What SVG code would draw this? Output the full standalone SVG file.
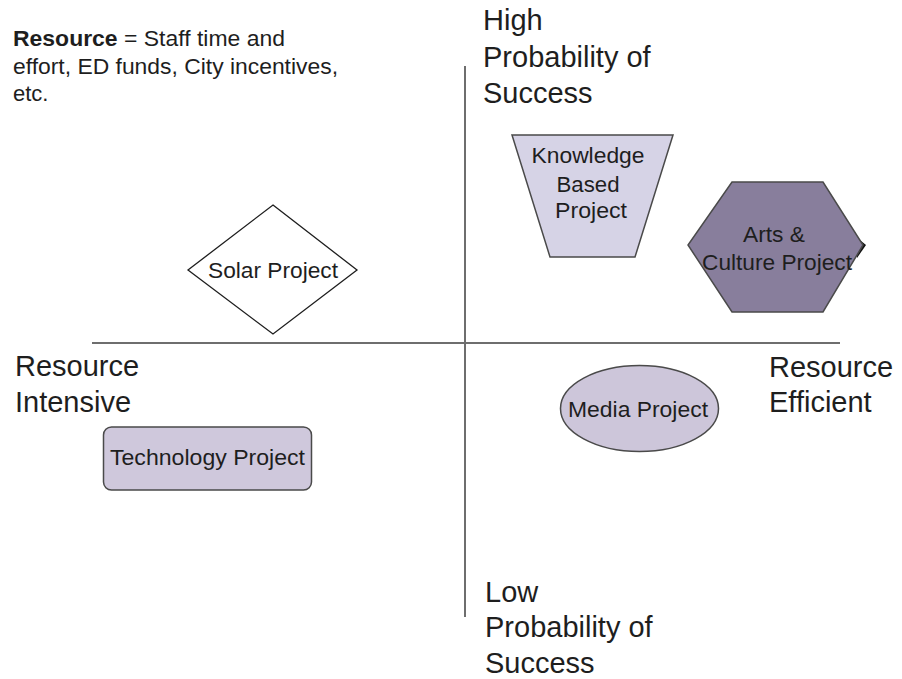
<svg xmlns="http://www.w3.org/2000/svg" width="902" height="679" viewBox="0 0 902 679">
  <style>
    .lbl { font-family: "Liberation Sans", Arial, sans-serif; fill: #1e1e1e; }
    .big { font-size: 29px; }
    .note { font-size: 22px; }
    .node-text { font-family: "Liberation Sans", Arial, sans-serif; font-size: 22px; fill: #1e1e1e; text-anchor: middle; }
    .axis { stroke: #6e6e6e; stroke-width: 2; fill: none; }
    .shape { stroke: #4a4a4a; stroke-width: 1.5; }
  </style>
  <rect width="902" height="679" fill="#ffffff"/>

  <!-- quadrant axes -->
  <g id="connectors">
    <line class="axis" x1="92" y1="343" x2="840" y2="343"/>
    <line class="axis" x1="465" y1="66" x2="465" y2="617"/>
  </g>

  <!-- definition note -->
  <g id="note" class="lbl note">
    <text x="13" y="46" textLength="272" lengthAdjust="spacingAndGlyphs"><tspan font-weight="bold">Resource</tspan> = Staff time and</text>
    <text x="13" y="74" textLength="325" lengthAdjust="spacingAndGlyphs">effort, ED funds, City incentives,</text>
    <text x="13" y="101">etc.</text>
  </g>

  <!-- axis labels -->
  <g id="label-high" class="lbl big">
    <text x="483" y="30">High</text>
    <text x="483" y="66.5">Probability of</text>
    <text x="483" y="103">Success</text>
  </g>
  <g id="label-low" class="lbl big">
    <text x="485" y="601.5">Low</text>
    <text x="485" y="637">Probability of</text>
    <text x="485" y="673">Success</text>
  </g>
  <g id="label-intensive" class="lbl big">
    <text x="15" y="376">Resource</text>
    <text x="15" y="412">Intensive</text>
  </g>
  <g id="label-efficient" class="lbl big">
    <text x="769" y="376.5">Resource</text>
    <text x="769" y="412">Efficient</text>
  </g>

  <!-- projects -->
  <g id="knowledge-project">
    <polygon class="shape" points="512,135 673,135 635,257 550,257" fill="#d6d3e6"/>
    <text class="node-text" x="588" y="163" textLength="113" lengthAdjust="spacingAndGlyphs">Knowledge</text>
    <text class="node-text" x="588" y="191.5" textLength="63" lengthAdjust="spacingAndGlyphs">Based</text>
    <text class="node-text" x="591" y="218" textLength="72" lengthAdjust="spacingAndGlyphs">Project</text>
  </g>

  <g id="arts-project">
    <polygon points="855,236 866,245 857,258" fill="#111111"/>
    <polygon class="shape" points="732,182 823,182 863,245 823,312 732,312 688,245" fill="#887e9c" stroke="#6b6480"/>
    <text class="node-text" x="774" y="241.5" fill="#2a2436" textLength="62" lengthAdjust="spacingAndGlyphs">Arts &amp;</text>
    <text class="node-text" x="777" y="270" textLength="150" lengthAdjust="spacingAndGlyphs" fill="#2a2436">Culture Project</text>
  </g>

  <g id="solar-project">
    <polygon points="273,205 357,270 273,334 188,270" fill="#ffffff" stroke="#1e1e1e" stroke-width="1.3"/>
    <text class="node-text" x="273" y="277.5" textLength="130" lengthAdjust="spacingAndGlyphs">Solar Project</text>
  </g>

  <g id="technology-project">
    <rect class="shape" x="103.5" y="427" width="208" height="63" rx="8" fill="#cfc8dc"/>
    <text class="node-text" x="207.5" y="465" textLength="195" lengthAdjust="spacingAndGlyphs">Technology Project</text>
  </g>

  <g id="media-project">
    <ellipse class="shape" cx="639.5" cy="408.5" rx="79" ry="43" fill="#cdc6da"/>
    <text class="node-text" x="638" y="416.5" textLength="140" lengthAdjust="spacingAndGlyphs">Media Project</text>
  </g>
</svg>
